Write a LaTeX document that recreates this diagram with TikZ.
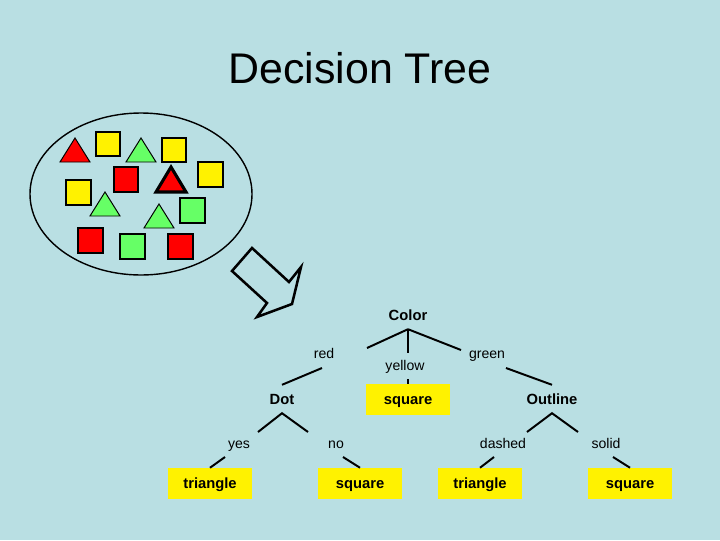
\documentclass[tikz,border=0pt]{standalone}
\usepackage{fontspec}
\setmainfont{Liberation Sans}
\definecolor{slidebg}{RGB}{185,223,227}
\definecolor{lightgreen}{RGB}{102,255,102}
\begin{document}
\begin{tikzpicture}[x=0.025cm, y=-0.025cm,
    box/.style={draw=black, line width=2pt},
    tri/.style={draw=black, line width=0.7pt},
    branch/.style={line width=1.4pt},
    attr/.style={font=\fontsize{10.5}{12}\selectfont\bfseries, inner sep=0pt,
      text height=0.95em, text depth=0.22em, minimum height=19.8pt},
    value/.style={font=\fontsize{10}{12}\selectfont, inner sep=0pt,
      text height=0.9em, text depth=0.22em},
    leaf/.style={fill=yellow, font=\fontsize{10.5}{12}\selectfont\bfseries, inner sep=0pt,
      text height=0.95em, text depth=0.22em, minimum width=59.5pt, minimum height=22pt}]
  \fill[slidebg] (0,0) rectangle (720,540);
  \node[font=\fontsize{30.5}{36}\selectfont] (title) at (360,68) {Decision Tree};
  % the bag of examples
  \draw[line width=1pt] (141,194) ellipse (111 and 81);
  \draw[tri, fill=red] (75,138) -- (90,162) -- (60,162) -- cycle;
  \draw[box, fill=yellow] (96,132) rectangle (120,156);
  \draw[tri, fill=lightgreen] (141,138) -- (156,162) -- (126,162) -- cycle;
  \draw[box, fill=yellow] (162,138) rectangle (186,162);
  \draw[box, fill=yellow] (198,162) rectangle (223,187);
  \draw[box, fill=red] (114,167) rectangle (138,192);
  \draw[tri, line width=2.2pt, fill=red] (171,167) -- (186,192) -- (156,192) -- cycle;
  \draw[box, fill=yellow] (66,180) rectangle (91,205);
  \draw[tri, fill=lightgreen] (105,192) -- (120,216) -- (90,216) -- cycle;
  \draw[tri, fill=lightgreen] (159,204) -- (174,228) -- (144,228) -- cycle;
  \draw[box, fill=lightgreen] (180,198) rectangle (205,223);
  \draw[box, fill=red] (78,228) rectangle (103,253);
  \draw[box, fill=lightgreen] (120,234) rectangle (145,259);
  \draw[box, fill=red] (168,234) rectangle (193,259);
  % block arrow
  \draw[line width=1.8pt, line join=miter] (252,248) -- (289,282) -- (301,267) -- (292,304)
    -- (257,317) -- (267,303) -- (232,271) -- cycle;
  % the tree
  \node[attr] (color) at (408,315) {Color};
  \node[value] (red) at (324,354) {red};
  \node[value] (yellow) at (405,366) {yellow};
  \node[value] (green) at (487,354) {green};
  \node[attr] (dot) at (282,399) {Dot};
  \node[leaf] (sq) at (408,399.5) {square};
  \node[attr] (outline) at (552,399) {Outline};
  \node[value] (yes) at (239,444) {yes};
  \node[value] (no) at (336,444) {no};
  \node[value] (dashed) at (503,444) {dashed};
  \node[value] (solid) at (606,444) {solid};
  \node[leaf] (tri1) at (210,483.5) {triangle};
  \node[leaf] (sq1) at (360,483.5) {square};
  \node[leaf] (tri2) at (480,483.5) {triangle};
  \node[leaf] (sq2) at (630,483.5) {square};
  \coordinate (r1) at (367,348);
  \coordinate (r2) at (322,368);
  \coordinate (y1) at (408,353);
  \coordinate (y2) at (408,379);
  \coordinate (g1) at (461,350);
  \coordinate (g2) at (506,368);
  \draw[branch] (color.south) -- (r1);
  \draw[branch] (r2) -- (dot.north);
  \draw[branch] (color.south) -- (y1);
  \draw[branch] (y2) -- (sq.north);
  \draw[branch] (color.south) -- (g1);
  \draw[branch] (g2) -- (outline.north);
  \coordinate (d1) at (258,432);
  \coordinate (d2) at (225,457);
  \coordinate (d3) at (308,432);
  \coordinate (d4) at (343,457);
  \draw[branch] (d1) -- (dot.south) -- (d3);
  \draw[branch] (d2) -- (tri1.north);
  \draw[branch] (d4) -- (sq1.north);
  \coordinate (o1) at (527,432);
  \coordinate (o2) at (494,457);
  \coordinate (o3) at (578,432);
  \coordinate (o4) at (613,457);
  \draw[branch] (o1) -- (outline.south) -- (o3);
  \draw[branch] (o2) -- (tri2.north);
  \draw[branch] (o4) -- (sq2.north);
\end{tikzpicture}
\end{document}
